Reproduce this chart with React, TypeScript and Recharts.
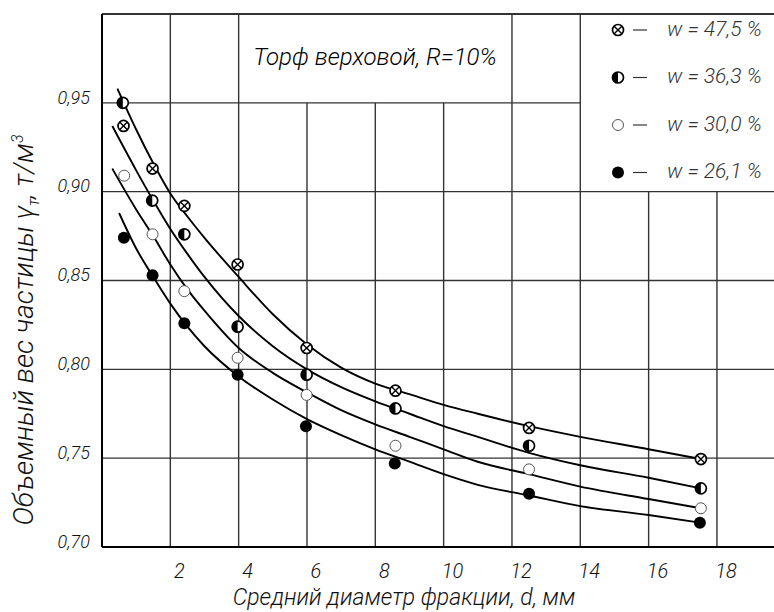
import React from "react";
import {
  ComposedChart,
  Line,
  Scatter,
  XAxis,
  YAxis,
  ReferenceLine,
} from "recharts";

// measured points, d (mm) / specific weight (t/m3)
const pts475 = [
  { x: 0.63, y: 0.937 }, { x: 1.48, y: 0.913 }, { x: 2.41, y: 0.892 }, { x: 3.97, y: 0.859 },
  { x: 5.99, y: 0.812 }, { x: 8.59, y: 0.788 }, { x: 12.5, y: 0.767 }, { x: 17.53, y: 0.7495 },
];
const pts363 = [
  { x: 0.61, y: 0.95 }, { x: 1.47, y: 0.895 }, { x: 2.41, y: 0.876 }, { x: 3.97, y: 0.824 },
  { x: 5.99, y: 0.797 }, { x: 8.59, y: 0.778 }, { x: 12.5, y: 0.757 }, { x: 17.53, y: 0.733 },
];
const pts300 = [
  { x: 0.65, y: 0.909 }, { x: 1.48, y: 0.876 }, { x: 2.41, y: 0.844 }, { x: 3.97, y: 0.8065 },
  { x: 5.99, y: 0.7856 }, { x: 8.59, y: 0.757 }, { x: 12.5, y: 0.7437 }, { x: 17.53, y: 0.7218 },
];
const pts261 = [
  { x: 0.64, y: 0.874 }, { x: 1.48, y: 0.853 }, { x: 2.41, y: 0.826 }, { x: 3.97, y: 0.797 },
  { x: 5.97, y: 0.768 }, { x: 8.57, y: 0.747 }, { x: 12.5, y: 0.73 }, { x: 17.5, y: 0.7137 },
];

// fitted curves
const fit475 = [
  { x: 0.45, y: 0.958 }, { x: 1, y: 0.935 }, { x: 1.5, y: 0.916 }, { x: 2, y: 0.899 },
  { x: 2.5, y: 0.886 }, { x: 3, y: 0.874 }, { x: 4, y: 0.852 }, { x: 5, y: 0.831 },
  { x: 6, y: 0.814 }, { x: 7, y: 0.801 }, { x: 8, y: 0.792 }, { x: 9, y: 0.786 },
  { x: 10, y: 0.78 }, { x: 11, y: 0.775 }, { x: 12.5, y: 0.768 }, { x: 14, y: 0.762 },
  { x: 16, y: 0.755 }, { x: 17.53, y: 0.7495 },
];
const fit363 = [
  { x: 0.3, y: 0.937 }, { x: 1, y: 0.912 }, { x: 1.5, y: 0.895 }, { x: 2, y: 0.879 },
  { x: 2.5, y: 0.865 }, { x: 3, y: 0.852 }, { x: 4, y: 0.83 }, { x: 5, y: 0.813 },
  { x: 6, y: 0.8 }, { x: 7, y: 0.79 }, { x: 8, y: 0.782 }, { x: 9, y: 0.775 },
  { x: 10, y: 0.768 }, { x: 11, y: 0.762 }, { x: 12.5, y: 0.753 }, { x: 14, y: 0.746 },
  { x: 16, y: 0.739 }, { x: 17.53, y: 0.733 },
];
const fit300 = [
  { x: 0.3, y: 0.913 }, { x: 1, y: 0.89 }, { x: 1.5, y: 0.875 }, { x: 2, y: 0.859 },
  { x: 2.5, y: 0.845 }, { x: 3, y: 0.833 }, { x: 4, y: 0.812 }, { x: 5, y: 0.798 },
  { x: 6, y: 0.787 }, { x: 7, y: 0.777 }, { x: 8, y: 0.769 }, { x: 9, y: 0.762 },
  { x: 10, y: 0.755 }, { x: 11, y: 0.748 }, { x: 12.5, y: 0.741 }, { x: 14, y: 0.734 },
  { x: 16, y: 0.727 }, { x: 17.53, y: 0.7218 },
];
const fit261 = [
  { x: 0.5, y: 0.888 }, { x: 1, y: 0.868 }, { x: 1.5, y: 0.852 }, { x: 2, y: 0.837 },
  { x: 2.5, y: 0.824 }, { x: 3, y: 0.813 }, { x: 4, y: 0.796 }, { x: 5, y: 0.783 },
  { x: 6, y: 0.772 }, { x: 7, y: 0.763 }, { x: 8, y: 0.755 }, { x: 9, y: 0.748 },
  { x: 10, y: 0.741 }, { x: 11, y: 0.735 }, { x: 12.5, y: 0.729 }, { x: 14, y: 0.723 },
  { x: 16, y: 0.718 }, { x: 17.5, y: 0.7137 },
];

const legendNames = ["w = 47,5 %", "w = 36,3 %", "w = 30,0 %", "w = 26,1 %"];
const xTicks = [2, 4, 6, 8, 10, 12, 14, 16, 18];
const yTicks = [0.7, 0.75, 0.8, 0.85, 0.9, 0.95];
const gridX = [2, 4, 6, 8, 10, 12, 14, 16, 18];
const gridY = [0.75, 0.8, 0.85, 0.9, 0.95];

const X_MAX = 19.67;
const Y_MIN = 0.7;
const Y_MAX = 1.0;
const FONT = "Roboto, 'Noto Sans', sans-serif";
const INK = "#111";

const CrossDot = (p: any) => {
  const { cx, cy } = p;
  const r = 5.5;
  const d = r * 0.7;
  return (
    <g>
      <circle cx={cx} cy={cy} r={r} fill="#fff" stroke="#000" strokeWidth={1.7} />
      <line x1={cx - d} y1={cy - d} x2={cx + d} y2={cy + d} stroke="#000" strokeWidth={1.4} />
      <line x1={cx - d} y1={cy + d} x2={cx + d} y2={cy - d} stroke="#000" strokeWidth={1.4} />
    </g>
  );
};
const HalfDot = (p: any) => {
  const { cx, cy } = p;
  const r = 5.5;
  return (
    <g>
      <circle cx={cx} cy={cy} r={r} fill="#fff" stroke="#000" strokeWidth={1.7} />
      <path d={`M${cx},${cy - r} A${r},${r} 0 0 0 ${cx},${cy + r} Z`} fill="#000" />
    </g>
  );
};
const OpenDot = (p: any) => (
  <circle cx={p.cx} cy={p.cy} r={5.5} fill="#fff" stroke="#555" strokeWidth={1} />
);
const FullDot = (p: any) => <circle cx={p.cx} cy={p.cy} r={6} fill="#000" />;

const shapes = [CrossDot, HalfDot, OpenDot, FullDot];

// vertical grid lines stop under the title box and the legend
const vTop = (x: number) => (x >= 6 && x <= 10 ? 0.95 : x >= 16 ? 0.9 : Y_MAX);
const hRight = (y: number) => (y >= 0.95 ? 14 : X_MAX);

const XTick = (p: any) => (
  <text x={p.x + 9} y={578} textAnchor="middle" fontFamily={FONT} fontWeight={300} fontStyle="italic" fontSize={20} fill={INK}>
    {p.payload.value}
  </text>
);
const YTick = (p: any) => (
  <text x={90} y={p.y - 4} textAnchor="end" dominantBaseline="middle" fontFamily={FONT} fontWeight={300} fontStyle="italic" fontSize={18} fill={INK}>
    {p.payload.value.toFixed(2).replace(".", ",")}
  </text>
);

export default function App() {
  const curves = [fit475, fit363, fit300, fit261];
  const points = [pts475, pts363, pts300, pts261];
  return (
    <div style={{ position: "absolute", left: 0, top: 0, width: 774, height: 612, background: "#fff" }}>
      <ComposedChart width={774} height={612} margin={{ top: 14, right: 0, left: 12, bottom: 25 }}>
        <XAxis
          type="number"
          dataKey="x"
          domain={[0, X_MAX]}
          allowDataOverflow
          ticks={xTicks}
          tick={<XTick />}
          tickLine={false}
          axisLine={{ stroke: "#000", strokeWidth: 2 }}
          height={40}
        />
        <YAxis
          type="number"
          dataKey="y"
          domain={[Y_MIN, Y_MAX]}
          allowDataOverflow
          ticks={yTicks}
          tick={<YTick />}
          tickLine={false}
          axisLine={{ stroke: "#000", strokeWidth: 2 }}
          width={90}
        />
        {gridX.map((x) => (
          <ReferenceLine
            key={"gx" + x}
            segment={[{ x, y: Y_MIN }, { x, y: vTop(x) }]}
            stroke="#333"
            strokeWidth={1.4}
          />
        ))}
        {gridY.map((y) => (
          <ReferenceLine
            key={"gy" + y}
            segment={[{ x: 0, y }, { x: hRight(y), y }]}
            stroke="#333"
            strokeWidth={1.4}
          />
        ))}
        <ReferenceLine y={Y_MAX} stroke="#333" strokeWidth={2} />
        {curves.map((c, i) => (
          <Line
            key={"c" + i}
            data={c}
            dataKey="y"
            type="monotone"
            stroke="#000"
            strokeWidth={1.9}
            dot={false}
            activeDot={false}
            isAnimationActive={false}
          />
        ))}
        {points.map((d, i) => (
          <Scatter key={"p" + i} data={d} dataKey="y" shape={shapes[i]} isAnimationActive={false} />
        ))}
      </ComposedChart>

      <div
        style={{
          position: "absolute", left: 238, top: 14, width: 274, height: 86,
          display: "flex", alignItems: "center", justifyContent: "center",
          fontFamily: FONT, fontWeight: 300, fontStyle: "italic", fontSize: 24, color: "#000",
          whiteSpace: "nowrap",
        }}
      >
        Торф верховой, R=10%
      </div>

      <svg style={{ position: "absolute", left: 600, top: 14 }} width={174} height={176}>
        {legendNames.map((name, i) => {
          const Shape = shapes[i];
          const cy = 16 + i * 47.5;
          return (
            <g key={name}>
              <Shape cx={18} cy={cy} />
              <line x1={33} y1={cy} x2={47} y2={cy} stroke="#333" strokeWidth={1.2} />
              <text x={67} y={cy} dominantBaseline="middle" fontFamily={FONT} fontWeight={300} fontStyle="italic" fontSize={21} fill="#333">
                {name}
              </text>
            </g>
          );
        })}
      </svg>

      <div
        style={{
          position: "absolute", left: 204, top: 586, width: 400, textAlign: "center", lineHeight: "24px",
          fontFamily: FONT, fontWeight: 300, fontStyle: "italic", fontSize: 23, color: INK, whiteSpace: "nowrap",
        }}
      >
        Средний диаметр фракции, d, мм
      </div>

      <div style={{ position: "absolute", left: 26, top: 330, width: 0, height: 0 }}>
        <div
          style={{
            position: "absolute", left: 0, top: 0, transform: "translate(-50%, -50%) rotate(-90deg)",
            fontFamily: FONT, fontWeight: 300, fontStyle: "italic", fontSize: 28, color: INK, whiteSpace: "nowrap",
            lineHeight: "30px",
          }}
        >
          Объемный вес частицы γ<sub style={{ fontSize: 16 }}>т</sub>, т/м<sup style={{ fontSize: 16 }}>3</sup>
        </div>
      </div>
    </div>
  );
}
